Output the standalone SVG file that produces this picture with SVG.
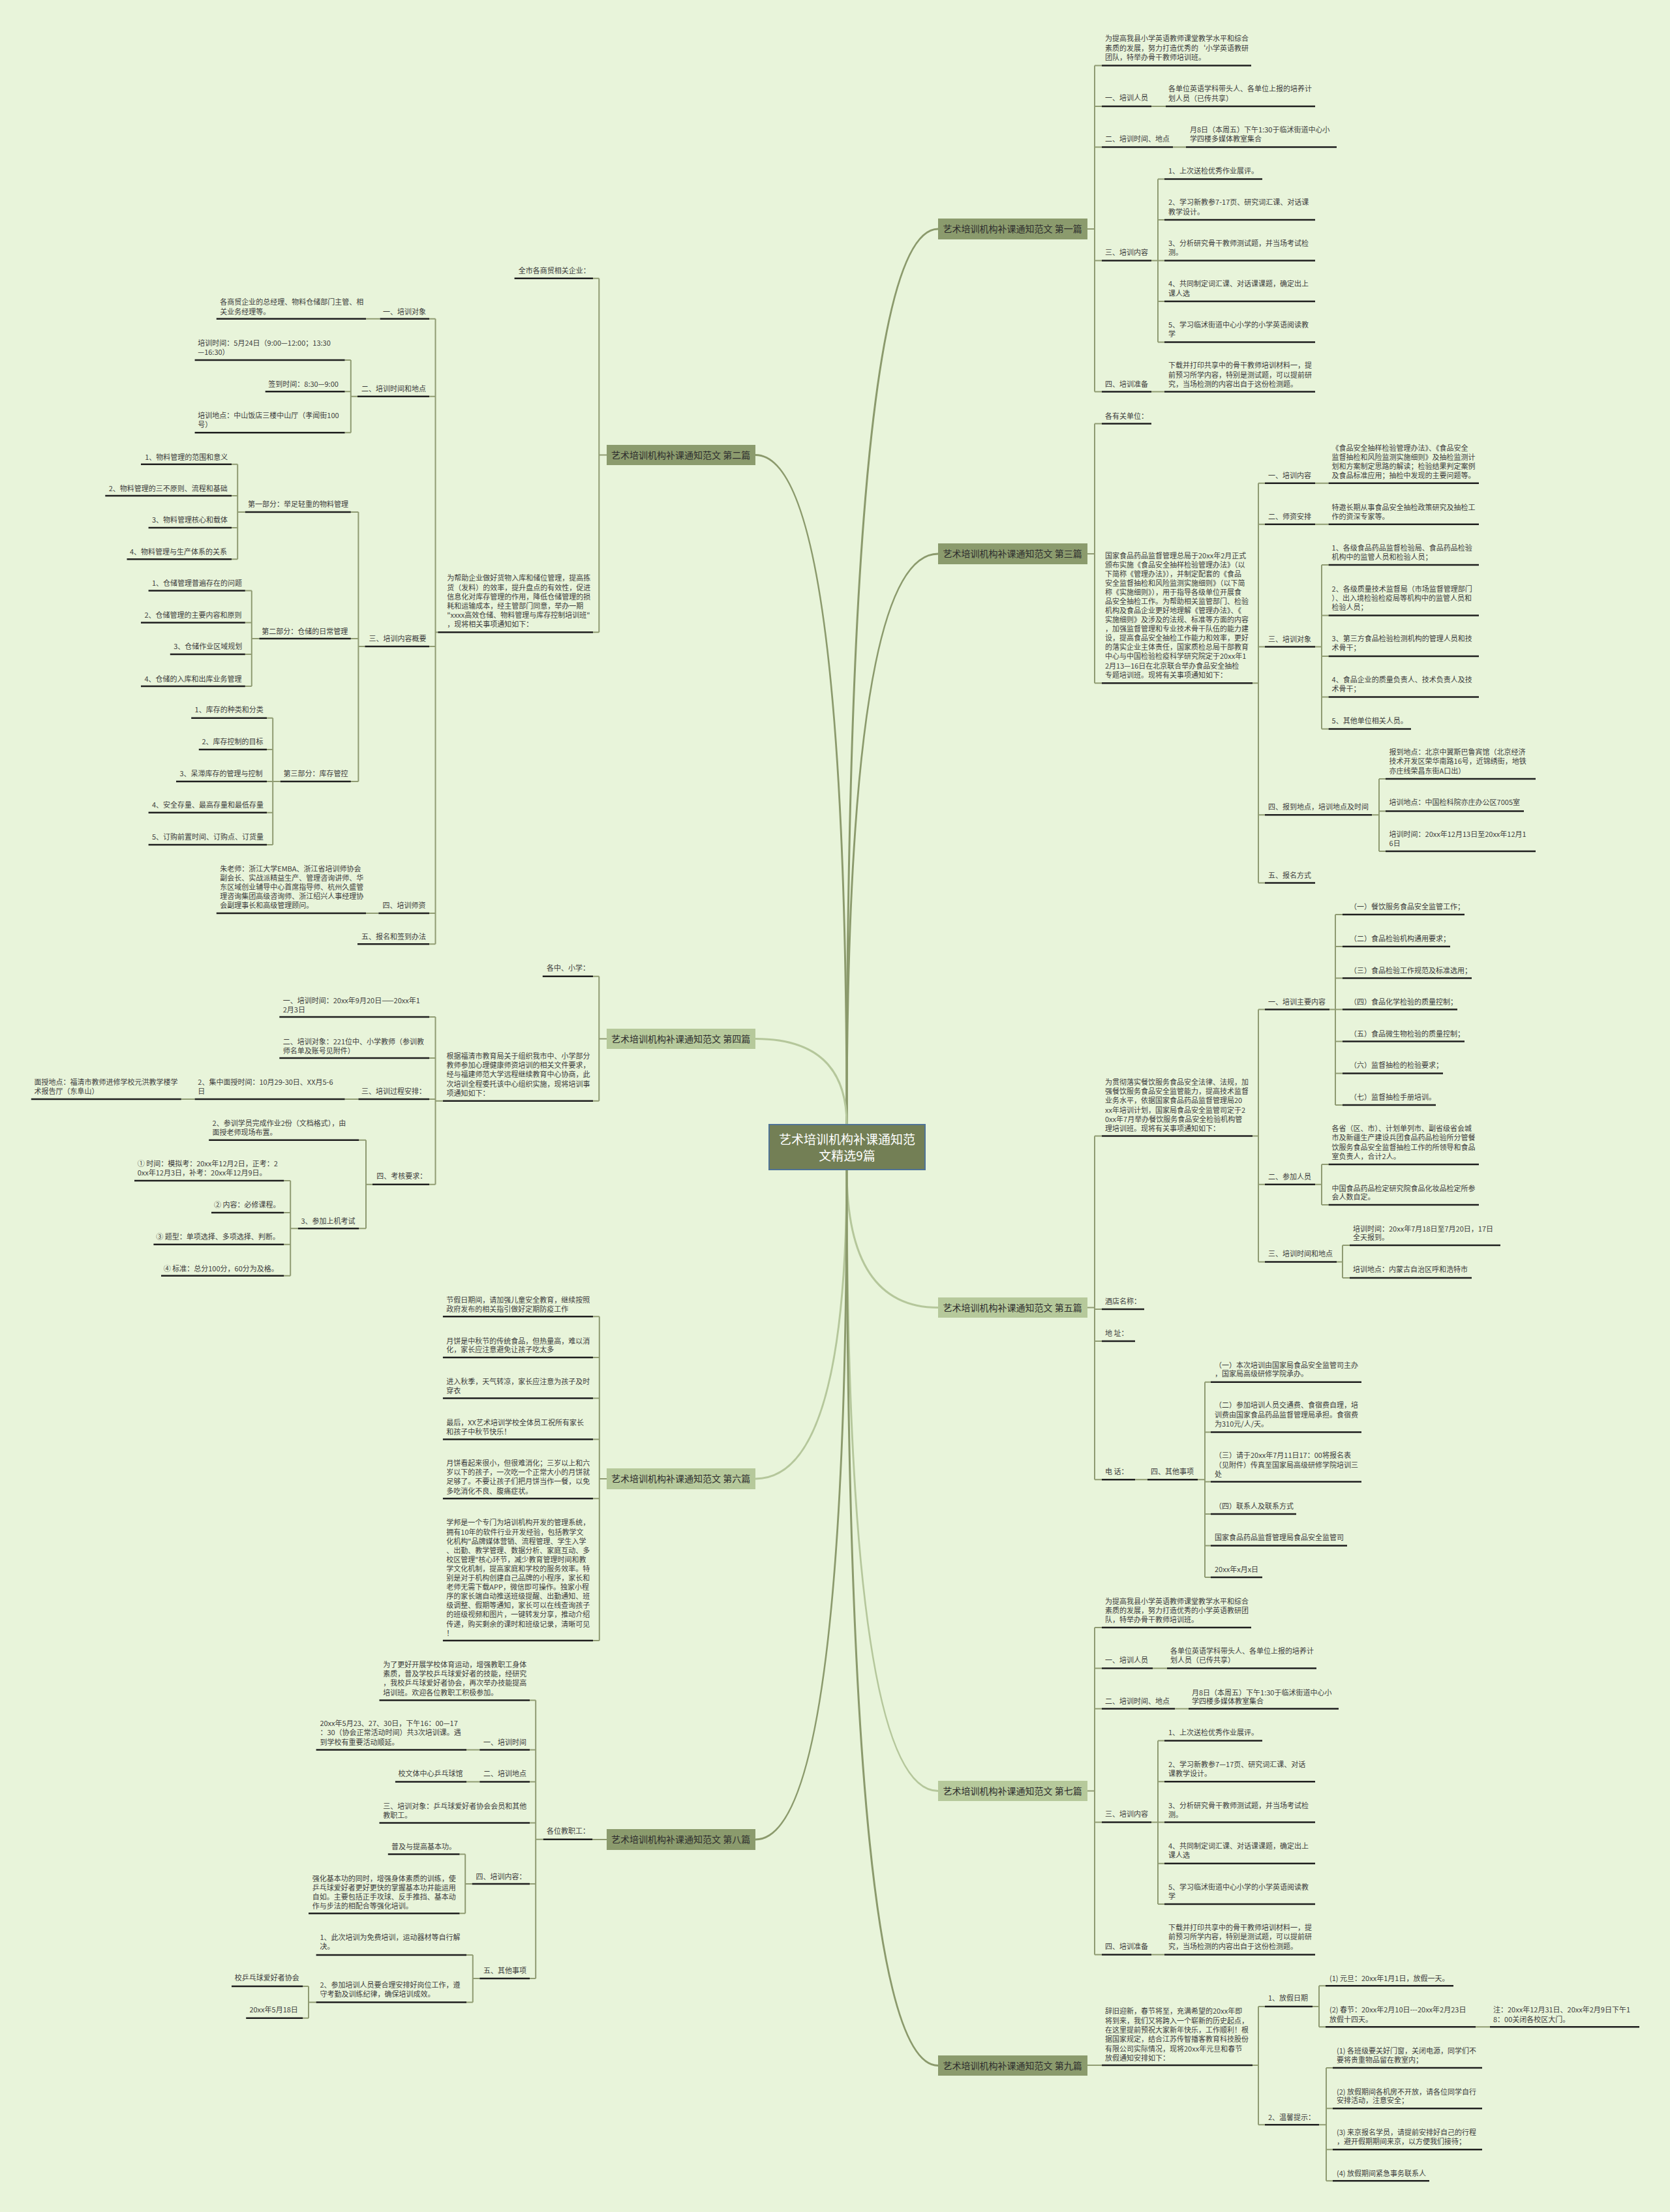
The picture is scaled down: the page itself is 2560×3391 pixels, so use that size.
<svg xmlns="http://www.w3.org/2000/svg" width="2560" height="3391" viewBox="0 0 2560 3391">
<style>
.t{font-family:"Noto Sans CJK SC","Noto Sans",sans-serif;font-size:11px;fill:#3d3d3d}
.bt{font-family:"Noto Sans CJK SC","Noto Sans",sans-serif;font-size:14px;fill:#2e2e2e}
.rt{font-family:"Noto Sans CJK SC","Noto Sans",sans-serif;font-size:19px;fill:#ffffff}
.u{stroke:#1f1f1f;stroke-width:2.5}
.k{stroke:#8f9b72;stroke-width:2;fill:none}
.cd{stroke:#8b9a6c;stroke-width:3;fill:none}
.cl{stroke:#b5c79b;stroke-width:3;fill:none}
.bd{fill:#8b9b6d}
.bl{fill:#b6c99b}
</style>
<rect x="0" y="0" width="2560" height="3391" fill="#e8f4da"/>
<g id="connectors">
<path class="cd" d="M1298 1724Q1298 351 1438 351"/>
<path class="cd" d="M1298 1724Q1298 849 1438 849"/>
<path class="cl" d="M1298 1793Q1298 2004.5 1438 2004.5"/>
<path class="cl" d="M1298 1793Q1298 2745.5 1438 2745.5"/>
<path class="cd" d="M1298 1793Q1298 3166.5 1438 3166.5"/>
<path class="cd" d="M1298 1724Q1298 697.5 1158 697.5"/>
<path class="cl" d="M1298 1724Q1298 1592.5 1158 1592.5"/>
<path class="cl" d="M1298 1793Q1298 2267 1158 2267"/>
<path class="cd" d="M1298 1793Q1298 2820 1158 2820"/>
<path class="k" d="M1667 351H1678M1678 100.4V600.4M1678 100.4H1689M1678 163H1689M1678 225.4H1689M1678 399.6H1689M1678 600.4H1689M1765 163H1787M1798 225.4H1818M1765 399.6H1775M1775 274.6V524.6M1775 274.6H1785M1775 337H1785M1775 399.6H1785M1775 462H1785M1775 524.6H1785M1765 600.4H1785"/>
<path class="k" d="M1667 849H1678M1678 649.6V1047.2M1678 649.6H1689M1678 1047.2H1689M1920 1047.2H1929M1929 740.8V1353.5M1929 740.8H1939M1929 803.8H1939M1929 991.4H1939M1929 1249.3H1939M1929 1353.5H1939M2016 740.8H2036.6M2016 803.8H2036.6M2016 991.4H2026M2026 865.9V1117.5M2026 865.9H2036.6M2026 943.4H2036.6M2026 1006H2036.6M2026 1068.5H2036.6M2026 1117.5H2036.6M2103 1249.3H2114M2114 1194V1305M2114 1194H2124M2114 1243.5H2124M2114 1305H2124"/>
<path class="k" d="M1667 2004.5H1678M1678 1741.4V2268.2M1678 1741.4H1689M1678 2007H1689M1678 2056H1689M1678 2268.2H1689M1920 1741.4H1929M1929 1547.5V1934.5M1929 1547.5H1939M1929 1815.7H1939M1929 1934.5H1939M2038 1547.5H2047M2047 1402V1694M2047 1402H2058M2047 1451H2058M2047 1499.6H2058M2047 1547.5H2058M2047 1596.4H2058M2047 1645.4H2058M2047 1694H2058M2016 1815.7H2026M2026 1785V1847M2026 1785H2036.6M2026 1847H2036.6M2049 1934.5H2058M2058 1909V1959M2058 1909H2069M2058 1959H2069M1740 2268.2H1759M1836 2268.2H1847M1847 2118.8V2418M1847 2118.8H1856M1847 2195.5H1856M1847 2271.6H1856M1847 2321H1856M1847 2369.6H1856M1847 2418H1856"/>
<path class="k" d="M1667 2745.5H1678M1678 2495V2996.4M1678 2495H1689M1678 2557.4H1689M1678 2619.4H1689M1678 2793.6H1689M1678 2996.4H1689M1767 2557.4H1789M1801 2619.4H1822M1765 2793.6H1775M1775 2668.4V2919M1775 2668.4H1785M1775 2731.2H1785M1775 2793.6H1785M1775 2856.7H1785M1775 2919H1785M1765 2996.4H1785"/>
<path class="k" d="M1667 3166H1689M1920 3166H1929M1929 3076V3257.3M1929 3076H1939M1929 3257.3H1939M2012 3076H2022M2022 3044.3V3107.3M2022 3044.3H2032M2022 3107.3H2032M2262 3107.3H2284M2022 3257.3H2033M2033 3170V3343.3M2033 3170H2043M2033 3232.3H2043M2033 3295.3H2043M2033 3343.3H2043"/>
<path class="k" d="M930 697.5H918.3M918.3 426.7V969.2M918.3 426.7H909M918.3 969.2H909M671.3 969.2H667.5M667.5 488.7V1447.3M667.5 488.7H658M667.5 607.7H658M667.5 991H658M667.5 1400H658M667.5 1447.3H658M582.6 488.7H561M548 607.7H537.8M537.8 552V663.3M537.8 552H528.6M537.8 600.3H528.6M537.8 663.3H528.6M559.4 991H549.4M549.4 785V1198M549.4 785H537.8M549.4 979H537.8M549.4 1198H537.8M375.8 785H364.2M364.2 711.7V857.3M364.2 711.7H355M364.2 760H355M364.2 809H355M364.2 857.3H355M397.4 979H385.8M385.8 905.6V1052M385.8 905.6H375.8M385.8 954.5H375.8M385.8 1003H375.8M385.8 1052H375.8M429.8 1198H418.2M418.2 1100.8V1295M418.2 1100.8H409M418.2 1149H409M418.2 1198H409M418.2 1245.7H409M418.2 1295H409M580.3 1400H561"/>
<path class="k" d="M930 1592.5H918.3M918.3 1496.7V1687.7M918.3 1496.7H909M918.3 1687.7H909M679 1687.7H667.5M667.5 1559V1815.7M667.5 1559H658M667.5 1622H658M667.5 1685H658M667.5 1815.7H658M549.4 1685H528.6M298.6 1685H277.8M571 1815.7H561M561 1747.7V1883.3M561 1747.7H550.2M561 1883.3H550.2M456.8 1883.3H445.2M445.2 1810V1955.7M445.2 1810H435.2M445.2 1859H435.2M445.2 1907.7H435.2M445.2 1955.7H435.2"/>
<path class="k" d="M930 2267H918.8M918.8 2018.2V2515M918.8 2018.2H909M918.8 2081H909M918.8 2143.6H909M918.8 2206.5H909M918.8 2297.3H909M918.8 2515H909"/>
<path class="k" d="M930 2820H908.2M832.8 2819.7H821.2M821.2 2606.6V3033.1M821.2 2606.6H812M821.2 2682.4H812M821.2 2731.6H812M821.2 2794.5H812M821.2 2888H812M821.2 3033.1H812M735.3 2682.4H715M735.3 2731.6H715M723.7 2888H713.2M713.2 2842.6V2933.3M713.2 2842.6H704.5M713.2 2933.3H704.5M735.3 3033.1H724.8M724.8 2996.9V3069.4M724.8 2996.9H715M724.8 3069.4H715M484.6 3069.4H473M473 3045V3093.8M473 3045H464.2M473 3093.8H464.2"/>
</g>
<g id="root"><rect x="1179" y="1724" width="239" height="69" fill="#737f55" stroke="#4f7396" stroke-width="2"/><text class="rt" x="1298.5" y="1753.5" text-anchor="middle">艺术培训机构补课通知范</text><text class="rt" x="1298.5" y="1778.5" text-anchor="middle">文精选9篇</text></g>
<g id="b1"><rect class="bd" x="1438" y="335" width="229" height="32"/><text class="bt" x="1445.5" y="356">艺术培训机构补课通知范文 第一篇</text></g>
<g id="b3"><rect class="bd" x="1438" y="833" width="229" height="32"/><text class="bt" x="1445.5" y="854">艺术培训机构补课通知范文 第三篇</text></g>
<g id="b5"><rect class="bl" x="1438" y="1989" width="229" height="31"/><text class="bt" x="1445.5" y="2009.5">艺术培训机构补课通知范文 第五篇</text></g>
<g id="b7"><rect class="bl" x="1438" y="2730" width="229" height="31"/><text class="bt" x="1445.5" y="2750.5">艺术培训机构补课通知范文 第七篇</text></g>
<g id="b9"><rect class="bd" x="1438" y="3151" width="229" height="31"/><text class="bt" x="1445.5" y="3171.5">艺术培训机构补课通知范文 第九篇</text></g>
<g id="b2"><rect class="bd" x="930" y="682" width="228" height="31"/><text class="bt" x="937" y="702.5">艺术培训机构补课通知范文 第二篇</text></g>
<g id="b4"><rect class="bl" x="930" y="1577" width="228" height="31"/><text class="bt" x="937" y="1597.5">艺术培训机构补课通知范文 第四篇</text></g>
<g id="b6"><rect class="bl" x="930" y="2251" width="228" height="32"/><text class="bt" x="937" y="2272">艺术培训机构补课通知范文 第六篇</text></g>
<g id="b8"><rect class="bd" x="930" y="2804" width="228" height="32"/><text class="bt" x="937" y="2825">艺术培训机构补课通知范文 第八篇</text></g>

<g id="n1a"><text class="t" y="63.4"><tspan x="1694">为提高我县小学英语教师课堂教学水平和综合</tspan><tspan x="1694" dy="14.3">素质的发展，努力打造优秀的‘小学英语教研</tspan><tspan x="1694" dy="14.3">团队，特举办骨干教师培训班。</tspan></text><line class="u" x1="1689" y1="100.4" x2="1918" y2="100.4"/></g>
<g id="n1b"><text class="t" x="1694" y="154.4">一、培训人员</text><line class="u" x1="1689" y1="163" x2="1765" y2="163"/></g>
<g id="n1b1"><text class="t" y="140.2"><tspan x="1791">各单位英语学科带头人、各单位上报的培养计</tspan><tspan x="1791" dy="14.3">划人员（已传共享）</tspan></text><line class="u" x1="1787" y1="163" x2="2016" y2="163"/></g>
<g id="n1c"><text class="t" x="1694" y="217">二、培训时间、地点</text><line class="u" x1="1689" y1="225.4" x2="1798" y2="225.4"/></g>
<g id="n1c1"><text class="t" y="203"><tspan x="1824">月8日（本周五）下午1:30于临沭街道中心小</tspan><tspan x="1824" dy="14.3">学四楼多媒体教室集合</tspan></text><line class="u" x1="1818" y1="225.4" x2="2049" y2="225.4"/></g>
<g id="n1d"><text class="t" x="1694" y="391">三、培训内容</text><line class="u" x1="1689" y1="399.6" x2="1765" y2="399.6"/></g>
<g id="n1d1"><text class="t" x="1791" y="266">1、上次送检优秀作业展评。</text><line class="u" x1="1785" y1="274.6" x2="1935" y2="274.6"/></g>
<g id="n1d2"><text class="t" y="314.3"><tspan x="1791">2、学习新教参7-17页、研究词汇课、对话课</tspan><tspan x="1791" dy="14.3">教学设计。</tspan></text><line class="u" x1="1785" y1="337" x2="2016" y2="337"/></g>
<g id="n1d3"><text class="t" y="376.8"><tspan x="1791">3、分析研究骨干教师测试题，并当场考试检</tspan><tspan x="1791" dy="14.3">测。</tspan></text><line class="u" x1="1785" y1="399.6" x2="2016" y2="399.6"/></g>
<g id="n1d4"><text class="t" y="439.3"><tspan x="1791">4、共同制定词汇课、对话课课题，确定出上</tspan><tspan x="1791" dy="14.3">课人选</tspan></text><line class="u" x1="1785" y1="462" x2="2016" y2="462"/></g>
<g id="n1d5"><text class="t" y="501.8"><tspan x="1791">5、学习临沭街道中心小学的小学英语阅读教</tspan><tspan x="1791" dy="14.3">学</tspan></text><line class="u" x1="1785" y1="524.6" x2="2016" y2="524.6"/></g>
<g id="n1e"><text class="t" x="1694" y="593">四、培训准备</text><line class="u" x1="1689" y1="600.4" x2="1765" y2="600.4"/></g>
<g id="n1e1"><text class="t" y="564"><tspan x="1791">下载并打印共享中的骨干教师培训材料一，提</tspan><tspan x="1791" dy="14.5">前预习所学内容，特别是测试题，可以提前研</tspan><tspan x="1791" dy="14.5">究，当场检测的内容出自于这份检测题。</tspan></text><line class="u" x1="1785" y1="600.4" x2="2016" y2="600.4"/></g>

<g id="n3a"><text class="t" x="1694" y="642.4">各有关单位：</text><line class="u" x1="1689" y1="649.6" x2="1765" y2="649.6"/></g>
<g id="n3b"><text class="t" y="855.8"><tspan x="1694">国家食品药品监督管理总局于20xx年2月正式</tspan><tspan x="1694" dy="14.06">颁布实施《食品安全抽样检验管理办法》（以</tspan><tspan x="1694" dy="14.06">下简称《管理办法》），并制定配套的《食品</tspan><tspan x="1694" dy="14.06">安全监督抽检和风险监测实施细则》（以下简</tspan><tspan x="1694" dy="14.06">称《实施细则》），用于指导各级单位开展食</tspan><tspan x="1694" dy="14.06">品安全抽检工作。为帮助相关监管部门、检验</tspan><tspan x="1694" dy="14.06">机构及食品企业更好地理解《管理办法》、《</tspan><tspan x="1694" dy="14.06">实施细则》及涉及的法规、标准等方面的内容</tspan><tspan x="1694" dy="14.06">，加强监督管理和专业技术骨干队伍的能力建</tspan><tspan x="1694" dy="14.06">设，提高食品安全抽检工作能力和效率，更好</tspan><tspan x="1694" dy="14.06">的落实企业主体责任，国家质检总局干部教育</tspan><tspan x="1694" dy="14.06">中心与中国检验检疫科学研究院定于20xx年1</tspan><tspan x="1694" dy="14.06">2月13—16日在北京联合举办食品安全抽检</tspan><tspan x="1694" dy="14.06">专题培训班。现将有关事项通知如下：</tspan></text><line class="u" x1="1689" y1="1047.2" x2="1920" y2="1047.2"/></g>
<g id="n3c"><text class="t" x="1944" y="732.7">一、培训内容</text><line class="u" x1="1939" y1="740.8" x2="2016" y2="740.8"/></g>
<g id="n3c1"><text class="t" y="690.5"><tspan x="2041.6">《食品安全抽样检验管理办法》、《食品安全</tspan><tspan x="2041.6" dy="14.07">监督抽检和风险监测实施细则》及抽检监测计</tspan><tspan x="2041.6" dy="14.07">划和方案制定思路的解读；检验结果判定案例</tspan><tspan x="2041.6" dy="14.07">及食品标准应用；抽检中发现的主要问题等。</tspan></text><line class="u" x1="2036.6" y1="740.8" x2="2267" y2="740.8"/></g>
<g id="n3d"><text class="t" x="1944" y="795.7">二、师资安排</text><line class="u" x1="1939" y1="803.8" x2="2016" y2="803.8"/></g>
<g id="n3d1"><text class="t" y="781.7"><tspan x="2041.6">特邀长期从事食品安全抽检政策研究及抽检工</tspan><tspan x="2041.6" dy="14.07">作的资深专家等。</tspan></text><line class="u" x1="2036.6" y1="803.8" x2="2267" y2="803.8"/></g>
<g id="n3e"><text class="t" x="1944" y="983.8">三、培训对象</text><line class="u" x1="1939" y1="991.4" x2="2016" y2="991.4"/></g>
<g id="n3e1"><text class="t" y="843.7"><tspan x="2041.6">1、各级食品药品监督检验局、食品药品检验</tspan><tspan x="2041.6" dy="14.1">机构中的监管人员和检验人员；</tspan></text><line class="u" x1="2036.6" y1="865.9" x2="2267" y2="865.9"/></g>
<g id="n3e2"><text class="t" y="906.7"><tspan x="2041.6">2、各级质量技术监督局（市场监督管理部门</tspan><tspan x="2041.6" dy="14.1">）、出入境检验检疫局等机构中的监管人员和</tspan><tspan x="2041.6" dy="14.1">检验人员；</tspan></text><line class="u" x1="2036.6" y1="943.4" x2="2267" y2="943.4"/></g>
<g id="n3e3"><text class="t" y="983.3"><tspan x="2041.6">3、第三方食品检验检测机构的管理人员和技</tspan><tspan x="2041.6" dy="14.1">术骨干；</tspan></text><line class="u" x1="2036.6" y1="1006" x2="2267" y2="1006"/></g>
<g id="n3e4"><text class="t" y="1046.3"><tspan x="2041.6">4、食品企业的质量负责人、技术负责人及技</tspan><tspan x="2041.6" dy="14.1">术骨干；</tspan></text><line class="u" x1="2036.6" y1="1068.5" x2="2267" y2="1068.5"/></g>
<g id="n3e5"><text class="t" x="2041.6" y="1108.9">5、其他单位相关人员。</text><line class="u" x1="2036.6" y1="1117.5" x2="2163" y2="1117.5"/></g>
<g id="n3f"><text class="t" x="1944" y="1241.2">四、报到地点，培训地点及时间</text><line class="u" x1="1939" y1="1249.3" x2="2103" y2="1249.3"/></g>
<g id="n3f1"><text class="t" y="1157.3"><tspan x="2129.6">报到地点：北京中翼斯巴鲁宾馆（北京经济</tspan><tspan x="2129.6" dy="14.1">技术开发区荣华南路16号，近锦绣街，地铁</tspan><tspan x="2129.6" dy="14.1">亦庄线荣昌东街A口出）</tspan></text><line class="u" x1="2124" y1="1194" x2="2354" y2="1194"/></g>
<g id="n3f2"><text class="t" x="2129.6" y="1234.4">培训地点：中国检科院亦庄办公区7005室</text><line class="u" x1="2124" y1="1243.5" x2="2336" y2="1243.5"/></g>
<g id="n3f3"><text class="t" y="1282.9"><tspan x="2129.6">培训时间：20xx年12月13日至20xx年12月1</tspan><tspan x="2129.6" dy="14.1">6日</tspan></text><line class="u" x1="2124" y1="1305" x2="2354" y2="1305"/></g>
<g id="n3g"><text class="t" x="1944" y="1346">五、报名方式</text><line class="u" x1="1939" y1="1353.5" x2="2016" y2="1353.5"/></g>

<g id="n5a"><text class="t" y="1662.6"><tspan x="1694">为贯彻落实餐饮服务食品安全法律、法规，加</tspan><tspan x="1694" dy="14.3">强餐饮服务食品安全监管能力，提高技术监督</tspan><tspan x="1694" dy="14.3">业务水平，依据国家食品药品监督管理局20</tspan><tspan x="1694" dy="14.3">xx年培训计划，国家局食品安全监管司定于2</tspan><tspan x="1694" dy="14.3">0xx年7月举办餐饮服务食品安全检验机构管</tspan><tspan x="1694" dy="14.3">理培训班。现将有关事项通知如下：</tspan></text><line class="u" x1="1689" y1="1741.4" x2="1920" y2="1741.4"/></g>
<g id="n5b"><text class="t" x="1944" y="1540">一、培训主要内容</text><line class="u" x1="1939" y1="1547.5" x2="2038" y2="1547.5"/></g>
<g id="n5b1"><text class="t" x="2069" y="1394.4">（一）餐饮服务食品安全监管工作；</text><line class="u" x1="2058" y1="1402" x2="2245" y2="1402"/></g>
<g id="n5b2"><text class="t" x="2069" y="1443">（二）食品检验机构通用要求；</text><line class="u" x1="2058" y1="1451" x2="2223" y2="1451"/></g>
<g id="n5b3"><text class="t" x="2069" y="1491.5">（三）食品检验工作规范及标准选用；</text><line class="u" x1="2058" y1="1499.6" x2="2256" y2="1499.6"/></g>
<g id="n5b4"><text class="t" x="2069" y="1540">（四）食品化学检验的质量控制；</text><line class="u" x1="2058" y1="1547.5" x2="2234" y2="1547.5"/></g>
<g id="n5b5"><text class="t" x="2069" y="1588.6">（五）食品微生物检验的质量控制；</text><line class="u" x1="2058" y1="1596.4" x2="2245" y2="1596.4"/></g>
<g id="n5b6"><text class="t" x="2069" y="1637.2">（六）监督抽检的检验要求；</text><line class="u" x1="2058" y1="1645.4" x2="2212" y2="1645.4"/></g>
<g id="n5b7"><text class="t" x="2069" y="1685.8">（七）监督抽检手册培训。</text><line class="u" x1="2058" y1="1694" x2="2201" y2="1694"/></g>
<g id="n5c"><text class="t" x="1944" y="1808">二、参加人员</text><line class="u" x1="1939" y1="1815.7" x2="2016" y2="1815.7"/></g>
<g id="n5c1"><text class="t" y="1734"><tspan x="2041.6">各省（区、市）、计划单列市、副省级省会城</tspan><tspan x="2041.6" dy="14.3">市及新疆生产建设兵团食品药品检验所分管餐</tspan><tspan x="2041.6" dy="14.3">饮服务食品安全监督抽检工作的所领导和食品</tspan><tspan x="2041.6" dy="14.3">室负责人，合计2人。</tspan></text><line class="u" x1="2036.6" y1="1785" x2="2267" y2="1785"/></g>
<g id="n5c2"><text class="t" y="1825.8"><tspan x="2041.6">中国食品药品检定研究院食品化妆品检定所参</tspan><tspan x="2041.6" dy="13.6">会人数自定。</tspan></text><line class="u" x1="2036.6" y1="1847" x2="2267" y2="1847"/></g>
<g id="n5d"><text class="t" x="1944" y="1925.8">三、培训时间和地点</text><line class="u" x1="1939" y1="1934.5" x2="2049" y2="1934.5"/></g>
<g id="n5d1"><text class="t" y="1887.6"><tspan x="2074">培训时间：20xx年7月18日至7月20日，17日</tspan><tspan x="2074" dy="13.6">全天报到。</tspan></text><line class="u" x1="2069" y1="1909" x2="2300" y2="1909"/></g>
<g id="n5d2"><text class="t" x="2074" y="1950.4">培训地点：内蒙古自治区呼和浩特市</text><line class="u" x1="2069" y1="1959" x2="2256" y2="1959"/></g>
<g id="n5e"><text class="t" x="1694" y="1999">酒店名称：</text><line class="u" x1="1689" y1="2007" x2="1754" y2="2007"/></g>
<g id="n5f"><text class="t" x="1694" y="2048">地 址：</text><line class="u" x1="1689" y1="2056" x2="1740" y2="2056"/></g>
<g id="n5g"><text class="t" x="1694" y="2260.4">电 话：</text><line class="u" x1="1689" y1="2268.2" x2="1740" y2="2268.2"/></g>
<g id="n5h"><text class="t" x="1764" y="2260.4">四、其他事项</text><line class="u" x1="1759" y1="2268.2" x2="1836" y2="2268.2"/></g>
<g id="n5h1"><text class="t" y="2097"><tspan x="1862">（一）本次培训由国家局食品安全监管司主办</tspan><tspan x="1862" dy="13.3">，国家局高级研修学院承办。</tspan></text><line class="u" x1="1856" y1="2118.8" x2="2087" y2="2118.8"/></g>
<g id="n5h2"><text class="t" y="2158"><tspan x="1862">（二）参加培训人员交通费、食宿费自理，培</tspan><tspan x="1862" dy="14.5">训费由国家食品药品监督管理局承担。食宿费</tspan><tspan x="1862" dy="14.5">为310元/人/天。</tspan></text><line class="u" x1="1856" y1="2195.5" x2="2087" y2="2195.5"/></g>
<g id="n5h3"><text class="t" y="2235"><tspan x="1862">（三）请于20xx年7月11日17：00将报名表</tspan><tspan x="1862" dy="14.5">（见附件）传真至国家局高级研修学院培训三</tspan><tspan x="1862" dy="14.5">处</tspan></text><line class="u" x1="1856" y1="2271.6" x2="2087" y2="2271.6"/></g>
<g id="n5h4"><text class="t" x="1862" y="2312.8">（四）联系人及联系方式</text><line class="u" x1="1856" y1="2321" x2="1987" y2="2321"/></g>
<g id="n5h5"><text class="t" x="1862" y="2361">国家食品药品监督管理局食品安全监管司</text><line class="u" x1="1856" y1="2369.6" x2="2065" y2="2369.6"/></g>
<g id="n5h6"><text class="t" x="1862" y="2409.8">20xx年x月x日</text><line class="u" x1="1856" y1="2418" x2="1935" y2="2418"/></g>

<g id="n7a"><text class="t" y="2458.5"><tspan x="1694">为提高我县小学英语教师课堂教学水平和综合</tspan><tspan x="1694" dy="14.2">素质的发展，努力打造优秀的小学英语教研团</tspan><tspan x="1694" dy="14.2">队，特举办骨干教师培训班。</tspan></text><line class="u" x1="1689" y1="2495" x2="1918" y2="2495"/></g>
<g id="n7b"><text class="t" x="1694" y="2548.8">一、培训人员</text><line class="u" x1="1689" y1="2557.4" x2="1767" y2="2557.4"/></g>
<g id="n7b1"><text class="t" y="2535.4"><tspan x="1794">各单位英语学科带头人、各单位上报的培养计</tspan><tspan x="1794" dy="13.4">划人员（已传共享）</tspan></text><line class="u" x1="1789" y1="2557.4" x2="2018" y2="2557.4"/></g>
<g id="n7c"><text class="t" x="1694" y="2612">二、培训时间、地点</text><line class="u" x1="1689" y1="2619.4" x2="1801" y2="2619.4"/></g>
<g id="n7c1"><text class="t" y="2598.6"><tspan x="1827">月8日（本周五）下午1:30于临沭街道中心小</tspan><tspan x="1827" dy="13.4">学四楼多媒体教室集合</tspan></text><line class="u" x1="1822" y1="2619.4" x2="2052" y2="2619.4"/></g>
<g id="n7d"><text class="t" x="1694" y="2785.3">三、培训内容</text><line class="u" x1="1689" y1="2793.6" x2="1765" y2="2793.6"/></g>
<g id="n7d1"><text class="t" x="1791" y="2659.8">1、上次送检优秀作业展评。</text><line class="u" x1="1785" y1="2668.4" x2="1935" y2="2668.4"/></g>
<g id="n7d2"><text class="t" y="2708.8"><tspan x="1791">2、学习新教参7—17页、研究词汇课、对话</tspan><tspan x="1791" dy="14.2">课教学设计。</tspan></text><line class="u" x1="1785" y1="2731.2" x2="2016" y2="2731.2"/></g>
<g id="n7d3"><text class="t" y="2771.5"><tspan x="1791">3、分析研究骨干教师测试题，并当场考试检</tspan><tspan x="1791" dy="14">测。</tspan></text><line class="u" x1="1785" y1="2793.6" x2="2016" y2="2793.6"/></g>
<g id="n7d4"><text class="t" y="2834"><tspan x="1791">4、共同制定词汇课、对话课课题，确定出上</tspan><tspan x="1791" dy="14">课人选</tspan></text><line class="u" x1="1785" y1="2856.7" x2="2016" y2="2856.7"/></g>
<g id="n7d5"><text class="t" y="2897"><tspan x="1791">5、学习临沭街道中心小学的小学英语阅读教</tspan><tspan x="1791" dy="13.5">学</tspan></text><line class="u" x1="1785" y1="2919" x2="2016" y2="2919"/></g>
<g id="n7e"><text class="t" x="1694" y="2987.8">四、培训准备</text><line class="u" x1="1689" y1="2996.4" x2="1765" y2="2996.4"/></g>
<g id="n7e1"><text class="t" y="2959"><tspan x="1791">下载并打印共享中的骨干教师培训材料一，提</tspan><tspan x="1791" dy="14.4">前预习所学内容，特别是测试题，可以提前研</tspan><tspan x="1791" dy="14.4">究，当场检测的内容出自于这份检测题。</tspan></text><line class="u" x1="1785" y1="2996.4" x2="2016" y2="2996.4"/></g>

<g id="n9a"><text class="t" y="3087.3"><tspan x="1694">辞旧迎新，春节将至，充满希望的20xx年即</tspan><tspan x="1694" dy="14.35">将到来，我们又将跨入一个崭新的历史起点，</tspan><tspan x="1694" dy="14.35">在这里提前预祝大家新年快乐，工作顺利！根</tspan><tspan x="1694" dy="14.35">据国家规定，结合江苏传智播客教育科技股份</tspan><tspan x="1694" dy="14.35">有限公司实际情况，现将20xx年元旦和春节</tspan><tspan x="1694" dy="14.35">放假通知安排如下：</tspan></text><line class="u" x1="1689" y1="3166" x2="1920" y2="3166"/></g>
<g id="n9b"><text class="t" x="1944" y="3067.3">1、放假日期</text><line class="u" x1="1939" y1="3076" x2="2012" y2="3076"/></g>
<g id="n9b1"><text class="t" x="2038" y="3037.3">(1) 元旦：20xx年1月1日，放假一天。</text><line class="u" x1="2032" y1="3044.3" x2="2228" y2="3044.3"/></g>
<g id="n9b2"><text class="t" y="3085"><tspan x="2038">(2) 春节：20xx年2月10日---20xx年2月23日</tspan><tspan x="2038" dy="14.7">放假十四天。</tspan></text><line class="u" x1="2032" y1="3107.3" x2="2262" y2="3107.3"/></g>
<g id="n9b2a"><text class="t" y="3085"><tspan x="2289">注：20xx年12月31日、20xx年2月9日下午1</tspan><tspan x="2289" dy="14.7">8：00关闭各校区大门。</tspan></text><line class="u" x1="2284" y1="3107.3" x2="2513" y2="3107.3"/></g>
<g id="n9c"><text class="t" x="1944" y="3249.7">2、温馨提示：</text><line class="u" x1="1939" y1="3257.3" x2="2022" y2="3257.3"/></g>
<g id="n9c1"><text class="t" y="3148"><tspan x="2049">(1) 各班级要关好门窗，关闭电源，同学们不</tspan><tspan x="2049" dy="14.3">要将贵重物品留在教室内；</tspan></text><line class="u" x1="2043" y1="3170" x2="2272" y2="3170"/></g>
<g id="n9c2"><text class="t" y="3210.7"><tspan x="2049">(2) 放假期间各机房不开放，请各位同学自行</tspan><tspan x="2049" dy="13.7">安排活动，注意安全；</tspan></text><line class="u" x1="2043" y1="3232.3" x2="2272" y2="3232.3"/></g>
<g id="n9c3"><text class="t" y="3273"><tspan x="2049">(3) 来京报名学员，请提前安排好自己的行程</tspan><tspan x="2049" dy="14.3">，避开假期期间来京，以方便我们接待；</tspan></text><line class="u" x1="2043" y1="3295.3" x2="2272" y2="3295.3"/></g>
<g id="n9c4"><text class="t" x="2049" y="3335.7">(4) 放假期间紧急事务联系人</text><line class="u" x1="2043" y1="3343.3" x2="2191" y2="3343.3"/></g>

<g id="n2a"><text class="t" x="794.8" y="419">全市各商贸相关企业：</text><line class="u" x1="788.6" y1="426.7" x2="909" y2="426.7"/></g>
<g id="n2b"><text class="t" y="890.4"><tspan x="685.2">为帮助企业做好货物入库和储位管理，提高拣</tspan><tspan x="685.2" dy="14.1">货（发料）的效率，提升盘点的有效性，促进</tspan><tspan x="685.2" dy="14.1">信息化对库存管理的作用，降低仓储管理的损</tspan><tspan x="685.2" dy="14.1">耗和运输成本，经主管部门同意，举办一期</tspan><tspan x="685.2" dy="14.1">"xxxx高效仓储、物料管理与库存控制培训班"</tspan><tspan x="685.2" dy="14.1">，现将相关事项通知如下：</tspan></text><line class="u" x1="671.3" y1="969.2" x2="909" y2="969.2"/></g>
<g id="n2c"><text class="t" x="587" y="481.7">一、培训对象</text><line class="u" x1="582.6" y1="488.7" x2="658" y2="488.7"/></g>
<g id="n2c1"><text class="t" y="467.3"><tspan x="337.2">各商贸企业的总经理、物料仓储部门主管、相</tspan><tspan x="337.2" dy="14.4">关业务经理等。</tspan></text><line class="u" x1="331.8" y1="488.7" x2="561" y2="488.7"/></g>
<g id="n2d"><text class="t" x="554" y="600">二、培训时间和地点</text><line class="u" x1="548" y1="607.7" x2="658" y2="607.7"/></g>
<g id="n2d1"><text class="t" y="529.7"><tspan x="303.3">培训时间：5月24日（9:00—12:00；13:30</tspan><tspan x="303.3" dy="14.3">—16:30）</tspan></text><line class="u" x1="298.6" y1="552" x2="528.6" y2="552"/></g>
<g id="n2d2"><text class="t" x="411.3" y="592.7">签到时间：8:30—9:00</text><line class="u" x1="406.7" y1="600.3" x2="528.6" y2="600.3"/></g>
<g id="n2d3"><text class="t" y="640.7"><tspan x="303.3">培训地点：中山饭店三楼中山厅（孝闻街100</tspan><tspan x="303.3" dy="14.3">号）</tspan></text><line class="u" x1="298.6" y1="663.3" x2="528.6" y2="663.3"/></g>
<g id="n2e"><text class="t" x="565.6" y="983">三、培训内容概要</text><line class="u" x1="559.4" y1="991" x2="658" y2="991"/></g>
<g id="n2f"><text class="t" x="380" y="777.3">第一部分：举足轻重的物料管理</text><line class="u" x1="375.8" y1="785" x2="537.8" y2="785"/></g>
<g id="n2f1"><text class="t" x="222.2" y="704.7">1、物料管理的范围和意义</text><line class="u" x1="216" y1="711.7" x2="355" y2="711.7"/></g>
<g id="n2f2"><text class="t" x="166.7" y="752.7">2、物料管理的三不原则、流程和基础</text><line class="u" x1="161.3" y1="760" x2="355" y2="760"/></g>
<g id="n2f3"><text class="t" x="233" y="800.7">3、物料管理核心和载体</text><line class="u" x1="227.6" y1="809" x2="355" y2="809"/></g>
<g id="n2f4"><text class="t" x="199" y="849.7">4、物料管理与生产体系的关系</text><line class="u" x1="194.5" y1="857.3" x2="355" y2="857.3"/></g>
<g id="n2g"><text class="t" x="401.3" y="971.7">第二部分：仓储的日常管理</text><line class="u" x1="397.4" y1="979" x2="537.8" y2="979"/></g>
<g id="n2g1"><text class="t" x="233" y="898.3">1、仓储管理普遍存在的问题</text><line class="u" x1="227.6" y1="905.6" x2="375.8" y2="905.6"/></g>
<g id="n2g2"><text class="t" x="221.5" y="946.8">2、仓储管理的主要内容和原则</text><line class="u" x1="216" y1="954.5" x2="375.8" y2="954.5"/></g>
<g id="n2g3"><text class="t" x="266.2" y="995">3、仓储作业区域规划</text><line class="u" x1="260.8" y1="1003" x2="375.8" y2="1003"/></g>
<g id="n2g4"><text class="t" x="221.5" y="1044.6">4、仓储的入库和出库业务管理</text><line class="u" x1="216" y1="1052" x2="375.8" y2="1052"/></g>
<g id="n2h"><text class="t" x="434.4" y="1189.9">第三部分：库存管控</text><line class="u" x1="429.8" y1="1198" x2="537.8" y2="1198"/></g>
<g id="n2h1"><text class="t" x="298.6" y="1092">1、库存的种类和分类</text><line class="u" x1="293.2" y1="1100.8" x2="409" y2="1100.8"/></g>
<g id="n2h2"><text class="t" x="309.4" y="1141">2、库存控制的目标</text><line class="u" x1="304.8" y1="1149" x2="409" y2="1149"/></g>
<g id="n2h3"><text class="t" x="275.5" y="1189.5">3、呆滞库存的管理与控制</text><line class="u" x1="270" y1="1198" x2="409" y2="1198"/></g>
<g id="n2h4"><text class="t" x="233" y="1238">4、安全存量、最高存量和最低存量</text><line class="u" x1="227.6" y1="1245.7" x2="409" y2="1245.7"/></g>
<g id="n2h5"><text class="t" x="233" y="1286.6">5、订购前置时间、订购点、订货量</text><line class="u" x1="227.6" y1="1295" x2="409" y2="1295"/></g>
<g id="n2i"><text class="t" x="586.5" y="1391.9">四、培训师资</text><line class="u" x1="580.3" y1="1400" x2="658" y2="1400"/></g>
<g id="n2i1"><text class="t" y="1335.5"><tspan x="337.2">朱老师：浙江大学EMBA、浙江省培训师协会</tspan><tspan x="337.2" dy="14.1">副会长、实战派精益生产、管理咨询讲师、华</tspan><tspan x="337.2" dy="14.1">东区域创业辅导中心首席指导师、杭州久盛管</tspan><tspan x="337.2" dy="14.1">理咨询集团高级咨询师、浙江绍兴人事经理协</tspan><tspan x="337.2" dy="14.1">会副理事长和高级管理顾问。</tspan></text><line class="u" x1="331.8" y1="1400" x2="561" y2="1400"/></g>
<g id="n2j"><text class="t" x="554" y="1440">五、报名和签到办法</text><line class="u" x1="548" y1="1447.3" x2="658" y2="1447.3"/></g>

<g id="n4a"><text class="t" x="838" y="1488.3">各中、小学：</text><line class="u" x1="831.8" y1="1496.7" x2="909" y2="1496.7"/></g>
<g id="n4b"><text class="t" y="1623"><tspan x="684.5">根据福清市教育局关于组织我市中、小学部分</tspan><tspan x="684.5" dy="14.2">教师参加心理健康师资培训的相关文件要求，</tspan><tspan x="684.5" dy="14.2">经与福建师范大学远程继续教育中心协商，此</tspan><tspan x="684.5" dy="14.2">次培训全程委托该中心组织实施，现将培训事</tspan><tspan x="684.5" dy="14.2">项通知如下：</tspan></text><line class="u" x1="679" y1="1687.7" x2="909" y2="1687.7"/></g>
<g id="n4c"><text class="t" y="1538"><tspan x="433.7">一、培训时间：20xx年9月20日——20xx年1</tspan><tspan x="433.7" dy="13.7">2月3日</tspan></text><line class="u" x1="428.3" y1="1559" x2="658" y2="1559"/></g>
<g id="n4d"><text class="t" y="1600.7"><tspan x="433.7">二、培训对象：221位中、小学教师（参训教</tspan><tspan x="433.7" dy="14">师名单及账号见附件）</tspan></text><line class="u" x1="428.3" y1="1622" x2="658" y2="1622"/></g>
<g id="n4e"><text class="t" x="554" y="1677.3">三、培训过程安排：</text><line class="u" x1="549.4" y1="1685" x2="658" y2="1685"/></g>
<g id="n4e1"><text class="t" y="1663"><tspan x="303.3">2、集中面授时间：10月29-30日、XX月5-6</tspan><tspan x="303.3" dy="13.7">日</tspan></text><line class="u" x1="298.6" y1="1685" x2="528.6" y2="1685"/></g>
<g id="n4e2"><text class="t" y="1663"><tspan x="52.5">面授地点：福清市教师进修学校元洪教学楼学</tspan><tspan x="52.5" dy="13.7">术报告厅（东阜山）</tspan></text><line class="u" x1="47.8" y1="1685" x2="277.8" y2="1685"/></g>
<g id="n4f"><text class="t" x="577.2" y="1807.3">四、考核要求：</text><line class="u" x1="571" y1="1815.7" x2="658" y2="1815.7"/></g>
<g id="n4f1"><text class="t" y="1726.3"><tspan x="325.6">2、参训学员完成作业2份（文档格式），由</tspan><tspan x="325.6" dy="13.7">面授老师现场布置。</tspan></text><line class="u" x1="320.2" y1="1747.7" x2="550.2" y2="1747.7"/></g>
<g id="n4f2"><text class="t" x="461.5" y="1875.7">3、参加上机考试</text><line class="u" x1="456.8" y1="1883.3" x2="550.2" y2="1883.3"/></g>
<g id="n4g1"><text class="t" y="1788.3"><tspan x="210.7">① 时间：模拟考：20xx年12月2日，正考：2</tspan><tspan x="210.7" dy="14">0xx年12月3日，补考：20xx年12月9日。</tspan></text><line class="u" x1="206" y1="1810" x2="435.2" y2="1810"/></g>
<g id="n4g2"><text class="t" x="328" y="1851.3">② 内容：必修课程。</text><line class="u" x1="324" y1="1859" x2="435.2" y2="1859"/></g>
<g id="n4g3"><text class="t" x="239.2" y="1900">③ 题型：单项选择、多项选择、判断。</text><line class="u" x1="235.4" y1="1907.7" x2="435.2" y2="1907.7"/></g>
<g id="n4g4"><text class="t" x="250.8" y="1948.7">④ 标准：总分100分，60分为及格。</text><line class="u" x1="247" y1="1955.7" x2="435.2" y2="1955.7"/></g>

<g id="n6a"><text class="t" y="1997.4"><tspan x="684.3">节假日期间，请加强儿童安全教育，继续按照</tspan><tspan x="684.3" dy="13.4">政府发布的相关指引做好定期防疫工作</tspan></text><line class="u" x1="678.9" y1="2018.2" x2="909" y2="2018.2"/></g>
<g id="n6b"><text class="t" y="2059.6"><tspan x="684.3">月饼是中秋节的传统食品，但热量高，难以消</tspan><tspan x="684.3" dy="13.4">化，家长应注意避免让孩子吃太多</tspan></text><line class="u" x1="678.9" y1="2081" x2="909" y2="2081"/></g>
<g id="n6c"><text class="t" y="2122"><tspan x="684.3">进入秋季，天气转凉，家长应注意为孩子及时</tspan><tspan x="684.3" dy="13.6">穿衣</tspan></text><line class="u" x1="678.9" y1="2143.6" x2="909" y2="2143.6"/></g>
<g id="n6d"><text class="t" y="2184.6"><tspan x="684.3">最后，XX艺术培训学校全体员工祝所有家长</tspan><tspan x="684.3" dy="13.9">和孩子中秋节快乐！</tspan></text><line class="u" x1="678.9" y1="2206.5" x2="909" y2="2206.5"/></g>
<g id="n6e"><text class="t" y="2246.8"><tspan x="684.3">月饼看起来很小，但很难消化；三岁以上和六</tspan><tspan x="684.3" dy="14.3">岁以下的孩子，一次吃一个正常大小的月饼就</tspan><tspan x="684.3" dy="14.3">足够了。不要让孩子们把月饼当作一餐，以免</tspan><tspan x="684.3" dy="14.3">多吃消化不良、腹痛症状。</tspan></text><line class="u" x1="678.9" y1="2297.3" x2="909" y2="2297.3"/></g>
<g id="n6f"><text class="t" y="2338.4"><tspan x="684.3">学邦是一个专门为培训机构开发的管理系统，</tspan><tspan x="684.3" dy="14.1">拥有10年的软件行业开发经验，包括教学文</tspan><tspan x="684.3" dy="14.1">化机构"品牌媒体营销、流程管理、学生入学</tspan><tspan x="684.3" dy="14.1">、出勤、教学管理、数据分析、家庭互动、多</tspan><tspan x="684.3" dy="14.1">校区管理"核心环节，减少教育管理时间和教</tspan><tspan x="684.3" dy="14.1">学文化机制，提高家庭和学校的服务效率。特</tspan><tspan x="684.3" dy="14.1">别是对于机构创建自己品牌的小程序，家长和</tspan><tspan x="684.3" dy="14.1">老师无需下载APP，微信即可操作。独家小程</tspan><tspan x="684.3" dy="14.1">序的家长端自动推送班级提醒、出勤通知、班</tspan><tspan x="684.3" dy="14.1">级调整、假期等通知，家长可以在线查询孩子</tspan><tspan x="684.3" dy="14.1">的班级视频和图片，一键转发分享，推动介绍</tspan><tspan x="684.3" dy="14.1">传递，购买剩余的课时和班级记录，清晰可见</tspan><tspan x="684.3" dy="14.1">！</tspan></text><line class="u" x1="678.9" y1="2515" x2="909" y2="2515"/></g>

<g id="n8a"><text class="t" x="838" y="2810.7">各位教职工：</text><line class="u" x1="832.8" y1="2819.7" x2="908.2" y2="2819.7"/></g>
<g id="n8b"><text class="t" y="2556.2"><tspan x="587.3">为了更好开展学校体育运动，增强教职工身体</tspan><tspan x="587.3" dy="14.1">素质，普及学校乒乓球爱好者的技能，经研究</tspan><tspan x="587.3" dy="14.1">，我校乒乓球爱好者协会，再次举办技能提高</tspan><tspan x="587.3" dy="14.1">培训班。欢迎各位教职工积极参加。</tspan></text><line class="u" x1="581.5" y1="2606.6" x2="812" y2="2606.6"/></g>
<g id="n8c"><text class="t" x="741" y="2674.6">一、培训时间</text><line class="u" x1="735.3" y1="2682.4" x2="812" y2="2682.4"/></g>
<g id="n8c1"><text class="t" y="2646"><tspan x="490.4">20xx年5月23、27、30日，下午16：00—17</tspan><tspan x="490.4" dy="14.3">：30（协会正常活动时间）共3次培训课。遇</tspan><tspan x="490.4" dy="14.3">到学校有重要活动顺延。</tspan></text><line class="u" x1="484.6" y1="2682.4" x2="715" y2="2682.4"/></g>
<g id="n8d"><text class="t" x="741" y="2723.4">二、培训地点</text><line class="u" x1="735.3" y1="2731.6" x2="812" y2="2731.6"/></g>
<g id="n8d1"><text class="t" x="610.5" y="2723.4">校文体中心乒乓球馆</text><line class="u" x1="605.9" y1="2731.6" x2="715" y2="2731.6"/></g>
<g id="n8e"><text class="t" y="2772.6"><tspan x="587.3">三、培训对象：乒乓球爱好者协会会员和其他</tspan><tspan x="587.3" dy="14.1">教职工。</tspan></text><line class="u" x1="581.5" y1="2794.5" x2="812" y2="2794.5"/></g>
<g id="n8f"><text class="t" x="729.5" y="2880.7">四、培训内容：</text><line class="u" x1="723.7" y1="2888" x2="812" y2="2888"/></g>
<g id="n8f1"><text class="t" x="600" y="2834.8">普及与提高基本功。</text><line class="u" x1="594.8" y1="2842.6" x2="704.5" y2="2842.6"/></g>
<g id="n8f2"><text class="t" y="2883.6"><tspan x="478.8">强化基本功的同时，增强身体素质的训练，使</tspan><tspan x="478.8" dy="14.05">乒乓球爱好者更好更快的掌握基本功并能运用</tspan><tspan x="478.8" dy="14.05">自如。主要包括正手攻球、反手推挡、基本动</tspan><tspan x="478.8" dy="14.05">作与步法的相配合等强化培训。</tspan></text><line class="u" x1="473" y1="2933.3" x2="704.5" y2="2933.3"/></g>
<g id="n8g"><text class="t" x="741" y="3024.6">五、其他事项</text><line class="u" x1="735.3" y1="3033.1" x2="812" y2="3033.1"/></g>
<g id="n8g1"><text class="t" y="2974.2"><tspan x="490.4">1、此次培训为免费培训，运动器材等自行解</tspan><tspan x="490.4" dy="14.1">决。</tspan></text><line class="u" x1="484.6" y1="2996.9" x2="715" y2="2996.9"/></g>
<g id="n8g2"><text class="t" y="3047"><tspan x="490.4">2、参加培训人员要合理安排好岗位工作，遵</tspan><tspan x="490.4" dy="14.2">守考勤及训练纪律，确保培训成效。</tspan></text><line class="u" x1="484.6" y1="3069.4" x2="715" y2="3069.4"/></g>
<g id="n8h1"><text class="t" x="359.8" y="3036.4">校乒乓球爱好者协会</text><line class="u" x1="355" y1="3045" x2="464.2" y2="3045"/></g>
<g id="n8h2"><text class="t" x="382.4" y="3085.2">20xx年5月18日</text><line class="u" x1="377.2" y1="3093.8" x2="464.2" y2="3093.8"/></g>
</svg>
